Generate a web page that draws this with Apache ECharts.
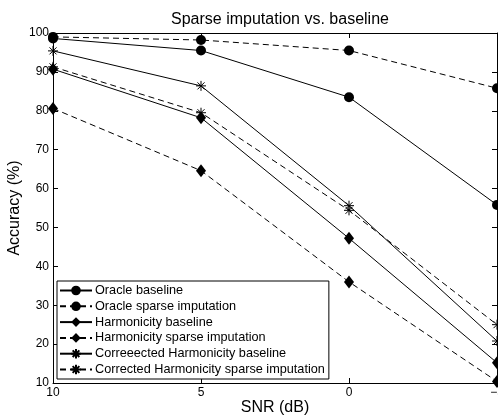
<!DOCTYPE html>
<html>
<head>
<meta charset="utf-8">
<script src="https://cdn.jsdelivr.net/npm/echarts@6/dist/echarts.min.js"></script>
<style>
  html, body { margin: 0; padding: 0; background: #fff; }
  #chart { width: 498px; height: 417px; }
</style>
</head>
<body>
<div id="chart"></div>
<script>
// SNR (dB) points, plotted high to low
var snr = [10, 5, 0, -5];

// accuracy (%) per system
var oracleBase   = [98.6, 95.5, 83.5, 55.8];
var oracleSparse = [99.0, 98.2, 95.5, 85.8];
var harmBase     = [90.7, 78.2, 47.2, 15.2];
var harmSparse   = [80.6, 64.6, 36.0, 10.4];
var corrBase     = [95.4, 86.4, 55.6, 20.8];
var corrSparse   = [91.3, 79.5, 54.4, 25.0];

var names = [
    'Oracle baseline',
    'Oracle sparse imputation',
    'Harmonicity baseline',
    'Harmonicity sparse imputation',
    'Correeected Harmonicity baseline',
    'Corrected Harmonicity sparse imputation'
];

var font = '"Liberation Sans", Arial, sans-serif';
var star = 'path://M5,0 L5,10 M0,5 L10,5 M1.5,1.5 L8.5,8.5 M8.5,1.5 L1.5,8.5';

function pairs(vals) {
    return snr.map(function (x, i) { return [x, vals[i]]; });
}

function mkSeries(name, vals, marker, dashed) {
    var s = {
        name: name,
        type: 'line',
        data: pairs(vals),
        symbol: marker,
        symbolSize: 10,
        showSymbol: true,
        lineStyle: { color: '#000', width: 1, type: dashed ? [6, 4] : 'solid' },
        itemStyle: { color: '#000', borderColor: '#000', borderWidth: 0 },
        emphasis: { disabled: true }
    };
    if (marker === 'diamond') s.symbolSize = [10, 13];
    if (marker === star) {
        s.symbolSize = 10;
        s.itemStyle = { color: 'rgba(0,0,0,0)', borderColor: '#000', borderWidth: 1 };
    }
    return s;
}

var chart = echarts.init(document.getElementById('chart'));

var option = {
    animation: false,
    backgroundColor: '#fff',
    title: {
        text: 'Sparse imputation vs. baseline',
        left: 275,
        textAlign: 'center',
        top: 7,
        textStyle: { fontFamily: font, fontSize: 16, fontWeight: 'normal', color: '#000' }
    },
    grid: { left: 53, right: 1, top: 33, bottom: 34, outerBoundsMode: 'none', containLabel: false },
    legend: {
        orient: 'vertical',
        left: 57,
        top: 281,
        itemWidth: 32,
        itemHeight: 12,
        itemGap: 2.8,
        padding: [3, 4, 3, 2],
        backgroundColor: '#fff',
        borderColor: '#000',
        borderWidth: 1,
        borderRadius: 0,
        selectedMode: false,
        textStyle: { fontFamily: font, fontSize: 12.7, color: '#000', padding: [0, 0, 0, -2] },
        data: names
    },
    xAxis: [{
        type: 'value',
        inverse: true,
        min: -5,
        max: 10,
        interval: 5,
        name: 'SNR (dB)',
        nameLocation: 'middle',
        nameGap: 17,
        nameMoveOverlap: false,
        nameTextStyle: { fontFamily: font, fontSize: 16, color: '#000' },
        axisLine: { onZero: false, lineStyle: { color: '#000', width: 1 } },
        axisTick: { inside: true, length: 5, lineStyle: { color: '#000' } },
        axisLabel: {
            fontFamily: font, fontSize: 12, color: '#000', margin: 4,
            formatter: function (v) { return v < 0 ? '\u2212' + (-v) : String(v); }
        },
        splitLine: { show: false }
    }, {
        type: 'value',
        inverse: true,
        position: 'top',
        min: -5,
        max: 10,
        interval: 5,
        axisLine: { onZero: false, lineStyle: { color: '#000', width: 1 } },
        axisTick: { inside: true, length: 5, lineStyle: { color: '#000' } },
        axisLabel: { show: false },
        splitLine: { show: false }
    }],
    yAxis: [{
        type: 'value',
        min: 10,
        max: 100,
        interval: 10,
        name: 'Accuracy (%)',
        nameLocation: 'middle',
        nameGap: 30,
        nameMoveOverlap: false,
        nameTextStyle: { fontFamily: font, fontSize: 16, color: '#000' },
        axisLine: { show: true, onZero: false, lineStyle: { color: '#000', width: 1 } },
        axisTick: { show: true, inside: true, length: 5, lineStyle: { color: '#000' } },
        axisLabel: { fontFamily: font, fontSize: 12, color: '#000', margin: 4 },
        splitLine: { show: false }
    }, {
        type: 'value',
        position: 'right',
        min: 10,
        max: 100,
        interval: 10,
        axisLine: { show: true, onZero: false, lineStyle: { color: '#000', width: 1 } },
        axisTick: { show: true, inside: true, length: 5, lineStyle: { color: '#000' } },
        axisLabel: { show: false },
        splitLine: { show: false }
    }],
    series: [
        mkSeries(names[0], oracleBase, 'circle', false),
        mkSeries(names[1], oracleSparse, 'circle', true),
        mkSeries(names[2], harmBase, 'diamond', false),
        mkSeries(names[3], harmSparse, 'diamond', true),
        mkSeries(names[4], corrBase, star, false),
        mkSeries(names[5], corrSparse, star, true)
    ]
};

chart.setOption(option);
</script>
</body>
</html>
